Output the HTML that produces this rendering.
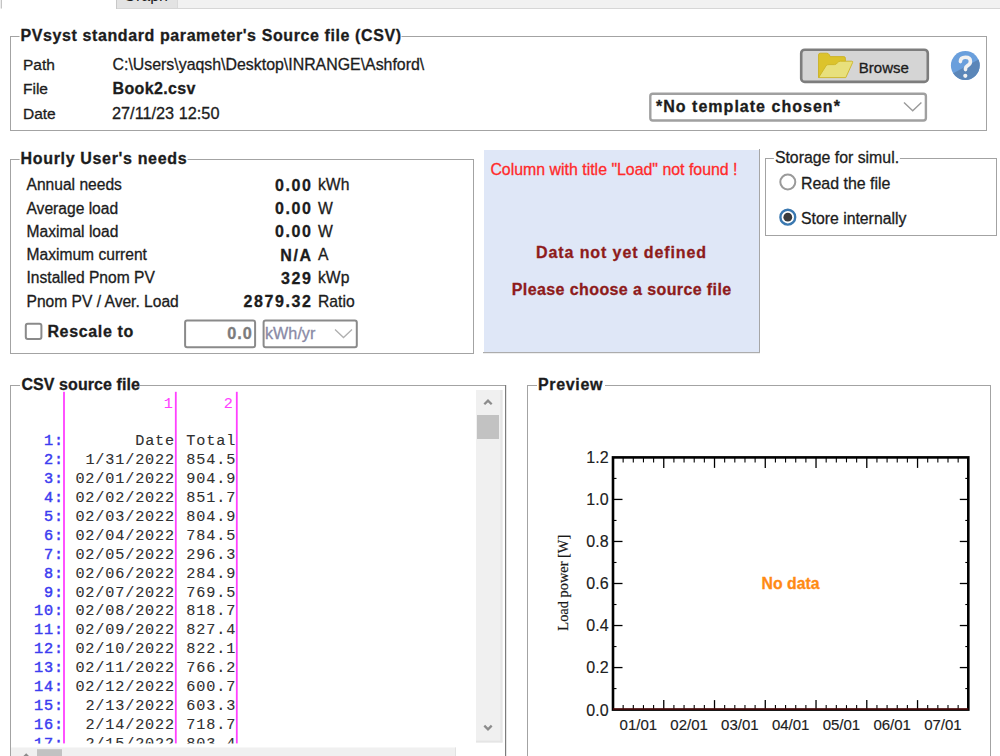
<!DOCTYPE html>
<html><head><meta charset="utf-8"><style>
html,body{margin:0;padding:0;background:#fff;width:1000px;height:756px;overflow:hidden}
svg{display:block}
</style></head><body>
<svg width="1000" height="756" viewBox="0 0 1000 756">
<rect x="0" y="0" width="1.5" height="8.5" fill="#ececec" stroke="none" stroke-width="1" rx="0" />
<rect x="1" y="0" width="1" height="8.5" fill="#c4c4c4" stroke="none" stroke-width="1" rx="0" />
<rect x="116" y="0" width="884" height="8" fill="#f1f1f1" stroke="none" stroke-width="1" rx="0" />
<rect x="116" y="8" width="884" height="1" fill="#d6d6d6" stroke="none" stroke-width="1" rx="0" />
<rect x="116" y="0" width="61" height="8" fill="#e3e3e3" stroke="none" stroke-width="1" rx="0" />
<rect x="116" y="0" width="1" height="9" fill="#c8c8c8" stroke="none" stroke-width="1" rx="0" />
<rect x="177" y="0" width="1" height="8" fill="#d9d9d9" stroke="none" stroke-width="1" rx="0" />
<text x="123.5" y="0.6" fill="#1c1c1c" text-anchor="start" style="font-family:&quot;Liberation Sans&quot;;font-size:16px;font-weight:normal;" >Graph</text>
<rect x="10.5" y="36.5" width="976" height="94" fill="none" stroke="#a3a3a3" stroke-width="1" rx="0" />
<rect x="19.5" y="33" width="382" height="7" fill="#fff" stroke="none" stroke-width="1" rx="0" />
<text x="20.5" y="41" fill="#1c1c1c" text-anchor="start" style="font-family:&quot;Liberation Sans&quot;;font-size:16px;font-weight:bold;letter-spacing:0.6px;stroke:#1c1c1c;stroke-width:0.3px;" >PVsyst standard parameter's Source file (CSV)</text>
<text x="23" y="69.8" fill="#1c1c1c" text-anchor="start" style="font-family:&quot;Liberation Sans&quot;;font-size:15.5px;font-weight:normal;stroke:#1c1c1c;stroke-width:0.3px;" >Path</text>
<text x="23" y="94.4" fill="#1c1c1c" text-anchor="start" style="font-family:&quot;Liberation Sans&quot;;font-size:15.5px;font-weight:normal;stroke:#1c1c1c;stroke-width:0.3px;" >File</text>
<text x="23" y="119.4" fill="#1c1c1c" text-anchor="start" style="font-family:&quot;Liberation Sans&quot;;font-size:15.5px;font-weight:normal;stroke:#1c1c1c;stroke-width:0.3px;" >Date</text>
<text x="112.5" y="69.8" fill="#1c1c1c" text-anchor="start" style="font-family:&quot;Liberation Sans&quot;;font-size:15.9px;font-weight:normal;stroke:#1c1c1c;stroke-width:0.3px;" >C:\Users\yaqsh\Desktop\INRANGE\Ashford\</text>
<text x="112.5" y="94.4" fill="#1c1c1c" text-anchor="start" style="font-family:&quot;Liberation Sans&quot;;font-size:16px;font-weight:bold;letter-spacing:0.35px;stroke:#1c1c1c;stroke-width:0.3px;" >Book2.csv</text>
<text x="112" y="119.4" fill="#1c1c1c" text-anchor="start" style="font-family:&quot;Liberation Sans&quot;;font-size:16.3px;font-weight:normal;stroke:#1c1c1c;stroke-width:0.3px;" >27/11/23 12:50</text>
<rect x="801.2" y="49.7" width="126.6" height="32.2" fill="#d5d5d5" stroke="#7d7d7d" stroke-width="2.6" rx="3.5" />
<g>
<path d="M818.5,77.5 L818.5,55 Q818.5,53.2 820.3,53.2 L826.8,53.2 Q828.3,53.2 829.2,54.6 L830.2,56.6 L843.8,56.6 Q845.4,56.6 845.4,58.2 L845.4,61.5 L818.5,77.5 Z" fill="#dcc32c" stroke="#c9ad1c" stroke-width="0.8"/>
<path d="M818.6,77.6 L826.2,65.6 Q827,64.6 829,64.6 L834.5,64.6 Q836.3,64.6 837.6,62.6 Q838.6,61.2 840.4,61.2 L851.6,61.2 Q853.2,61.2 852.6,62.6 L845.8,77.6 Z" fill="#e8e07c" stroke="#cdb422" stroke-width="0.9"/>
</g>
<text x="858.8" y="73.2" fill="#1c1c1c" text-anchor="start" style="font-family:&quot;Liberation Sans&quot;;font-size:15px;font-weight:normal;stroke:#1c1c1c;stroke-width:0.3px;" >Browse</text>
<defs><clipPath id="hc"><circle cx="965.3" cy="65.5" r="14.4"/></clipPath></defs>
<g clip-path="url(#hc)"><rect x="950" y="50" width="31" height="31" fill="#6a9fdc"/>
<path d="M950,75 L981,58.2 L981,81 L950,81 Z" fill="#5b86b8"/></g>
<path d="M960.4,61.6 Q960.4,57.3 965.4,57.3 Q970.4,57.3 970.4,61.4 Q970.4,63.9 967.6,65.6 Q965.5,66.9 965.5,68.6 L965.5,69.6" fill="none" stroke="#f2f2f2" stroke-width="3.6" stroke-linecap="round"/>
<circle cx="965.3" cy="75.8" r="2.1" fill="#f2f2f2"/>
<rect x="650.3" y="93.7" width="275.6" height="26.8" fill="#fff" stroke="#a0a0a0" stroke-width="2.4" rx="2.5" />
<text x="656" y="112.3" fill="#1c1c1c" text-anchor="start" style="font-family:&quot;Liberation Sans&quot;;font-size:16px;font-weight:bold;letter-spacing:1.02px;stroke:#1c1c1c;stroke-width:0.3px;" >*No template chosen*</text>
<polyline points="904,102.4 912.7,110.8 921.4,102.4" fill="none" stroke="#9a9a9a" stroke-width="1.4"/>
<rect x="10.5" y="159.5" width="463" height="194" fill="none" stroke="#a3a3a3" stroke-width="1" rx="0" />
<rect x="19.6" y="156" width="168" height="7" fill="#fff" stroke="none" stroke-width="1" rx="0" />
<text x="20.6" y="164" fill="#1c1c1c" text-anchor="start" style="font-family:&quot;Liberation Sans&quot;;font-size:16px;font-weight:bold;letter-spacing:0.66px;stroke:#1c1c1c;stroke-width:0.3px;" >Hourly User's needs</text>
<text x="26.5" y="190.4" fill="#1c1c1c" text-anchor="start" style="font-family:&quot;Liberation Sans&quot;;font-size:15.6px;font-weight:normal;stroke:#1c1c1c;stroke-width:0.3px;" >Annual needs</text>
<text x="312.6" y="190.9" fill="#1c1c1c" text-anchor="end" style="font-family:&quot;Liberation Sans&quot;;font-size:16px;font-weight:bold;letter-spacing:1.6px;stroke:#1c1c1c;stroke-width:0.3px;" >0.00</text>
<text x="318" y="190.4" fill="#1c1c1c" text-anchor="start" style="font-family:&quot;Liberation Sans&quot;;font-size:15.7px;font-weight:normal;stroke:#1c1c1c;stroke-width:0.3px;" >kWh</text>
<text x="26.5" y="213.65" fill="#1c1c1c" text-anchor="start" style="font-family:&quot;Liberation Sans&quot;;font-size:15.6px;font-weight:normal;stroke:#1c1c1c;stroke-width:0.3px;" >Average load</text>
<text x="312.6" y="214.15" fill="#1c1c1c" text-anchor="end" style="font-family:&quot;Liberation Sans&quot;;font-size:16px;font-weight:bold;letter-spacing:1.6px;stroke:#1c1c1c;stroke-width:0.3px;" >0.00</text>
<text x="318" y="213.65" fill="#1c1c1c" text-anchor="start" style="font-family:&quot;Liberation Sans&quot;;font-size:15.7px;font-weight:normal;stroke:#1c1c1c;stroke-width:0.3px;" >W</text>
<text x="26.5" y="236.9" fill="#1c1c1c" text-anchor="start" style="font-family:&quot;Liberation Sans&quot;;font-size:15.6px;font-weight:normal;stroke:#1c1c1c;stroke-width:0.3px;" >Maximal load</text>
<text x="312.6" y="237.4" fill="#1c1c1c" text-anchor="end" style="font-family:&quot;Liberation Sans&quot;;font-size:16px;font-weight:bold;letter-spacing:1.6px;stroke:#1c1c1c;stroke-width:0.3px;" >0.00</text>
<text x="318" y="236.9" fill="#1c1c1c" text-anchor="start" style="font-family:&quot;Liberation Sans&quot;;font-size:15.7px;font-weight:normal;stroke:#1c1c1c;stroke-width:0.3px;" >W</text>
<text x="26.5" y="260.15" fill="#1c1c1c" text-anchor="start" style="font-family:&quot;Liberation Sans&quot;;font-size:15.6px;font-weight:normal;stroke:#1c1c1c;stroke-width:0.3px;" >Maximum current</text>
<text x="312.6" y="260.65" fill="#1c1c1c" text-anchor="end" style="font-family:&quot;Liberation Sans&quot;;font-size:16px;font-weight:bold;letter-spacing:1.6px;stroke:#1c1c1c;stroke-width:0.3px;" >N/A</text>
<text x="318" y="260.15" fill="#1c1c1c" text-anchor="start" style="font-family:&quot;Liberation Sans&quot;;font-size:15.7px;font-weight:normal;stroke:#1c1c1c;stroke-width:0.3px;" >A</text>
<text x="26.5" y="283.4" fill="#1c1c1c" text-anchor="start" style="font-family:&quot;Liberation Sans&quot;;font-size:15.6px;font-weight:normal;stroke:#1c1c1c;stroke-width:0.3px;" >Installed Pnom PV</text>
<text x="312.6" y="283.9" fill="#1c1c1c" text-anchor="end" style="font-family:&quot;Liberation Sans&quot;;font-size:16px;font-weight:bold;letter-spacing:1.6px;stroke:#1c1c1c;stroke-width:0.3px;" >329</text>
<text x="318" y="283.4" fill="#1c1c1c" text-anchor="start" style="font-family:&quot;Liberation Sans&quot;;font-size:15.7px;font-weight:normal;stroke:#1c1c1c;stroke-width:0.3px;" >kWp</text>
<text x="26.5" y="306.65" fill="#1c1c1c" text-anchor="start" style="font-family:&quot;Liberation Sans&quot;;font-size:15.6px;font-weight:normal;stroke:#1c1c1c;stroke-width:0.3px;" >Pnom PV / Aver. Load</text>
<text x="312.6" y="307.15" fill="#1c1c1c" text-anchor="end" style="font-family:&quot;Liberation Sans&quot;;font-size:16px;font-weight:bold;letter-spacing:1.6px;stroke:#1c1c1c;stroke-width:0.3px;" >2879.32</text>
<text x="318" y="306.65" fill="#1c1c1c" text-anchor="start" style="font-family:&quot;Liberation Sans&quot;;font-size:15.7px;font-weight:normal;stroke:#1c1c1c;stroke-width:0.3px;" >Ratio</text>
<rect x="25.8" y="323.8" width="15.6" height="15.2" fill="#fff" stroke="#8a8a8a" stroke-width="2" rx="2" />
<text x="47.4" y="337.2" fill="#1c1c1c" text-anchor="start" style="font-family:&quot;Liberation Sans&quot;;font-size:16px;font-weight:bold;letter-spacing:0.65px;stroke:#1c1c1c;stroke-width:0.3px;" >Rescale to</text>
<rect x="185.1" y="320.5" width="70" height="26.8" fill="#fff" stroke="#8a8a8a" stroke-width="2" rx="2" />
<text x="252.8" y="338.6" fill="#7c7c7c" text-anchor="end" style="font-family:&quot;Liberation Sans&quot;;font-size:16.3px;font-weight:bold;letter-spacing:1.0px;stroke:#7c7c7c;stroke-width:0.3px;" >0.0</text>
<rect x="263.6" y="320.5" width="93.2" height="26.8" fill="#fff" stroke="#8a8a8a" stroke-width="2" rx="2" />
<text x="265" y="338.6" fill="#8a8aa6" text-anchor="start" style="font-family:&quot;Liberation Sans&quot;;font-size:16.2px;font-weight:normal;stroke:#8a8aa6;stroke-width:0.3px;" >kWh/yr</text>
<polyline points="335,329.5 343.5,337.5 352,329.5" fill="none" stroke="#b0b0b0" stroke-width="1.3"/>
<rect x="484" y="150" width="275" height="203" fill="#dfe7f7" stroke="none" stroke-width="1" rx="0" />
<rect x="759" y="149" width="1" height="204" fill="#a6a6a6" stroke="none" stroke-width="1" rx="0" />
<rect x="483" y="352" width="277" height="1.2" fill="#acacac" stroke="none" stroke-width="1" rx="0" />
<text x="490.4" y="174.6" fill="#ff2a2a" text-anchor="start" style="font-family:&quot;Liberation Sans&quot;;font-size:15.9px;font-weight:normal;stroke:#ff2a2a;stroke-width:0.3px;" >Column with title "Load" not found !</text>
<text x="621.5" y="257.6" fill="#8e1b1b" text-anchor="middle" style="font-family:&quot;Liberation Sans&quot;;font-size:16px;font-weight:bold;letter-spacing:0.9px;stroke:#8e1b1b;stroke-width:0.3px;" >Data not yet defined</text>
<text x="621.7" y="295.2" fill="#8e1b1b" text-anchor="middle" style="font-family:&quot;Liberation Sans&quot;;font-size:16px;font-weight:bold;letter-spacing:0.4px;stroke:#8e1b1b;stroke-width:0.3px;" >Please choose a source file</text>
<rect x="765.5" y="158.5" width="231" height="77" fill="none" stroke="#a3a3a3" stroke-width="1" rx="0" />
<rect x="773.9" y="155" width="126" height="7" fill="#fff" stroke="none" stroke-width="1" rx="0" />
<text x="774.9" y="162.8" fill="#1c1c1c" text-anchor="start" style="font-family:&quot;Liberation Sans&quot;;font-size:15.85px;font-weight:normal;stroke:#1c1c1c;stroke-width:0.3px;" >Storage for simul.</text>
<circle cx="787.8" cy="182" r="7.5" fill="#fff" stroke="#9a9a9a" stroke-width="2"/>
<text x="801" y="189.2" fill="#1c1c1c" text-anchor="start" style="font-family:&quot;Liberation Sans&quot;;font-size:15.95px;font-weight:normal;stroke:#1c1c1c;stroke-width:0.3px;" >Read the file</text>
<circle cx="787.8" cy="217.2" r="7.4" fill="#fff" stroke="#3a78b0" stroke-width="2.4"/>
<circle cx="787.8" cy="217.2" r="4.4" fill="#3b3b3b"/>
<text x="801" y="223.6" fill="#1c1c1c" text-anchor="start" style="font-family:&quot;Liberation Sans&quot;;font-size:15.8px;font-weight:normal;stroke:#1c1c1c;stroke-width:0.3px;" >Store internally</text>
<rect x="10.5" y="385.5" width="495" height="400" fill="none" stroke="#a3a3a3" stroke-width="1" rx="0" />
<rect x="505" y="385" width="1.2" height="371" fill="#7c7c7c" stroke="none" stroke-width="1" rx="0" />
<rect x="20" y="382" width="120" height="7" fill="#fff" stroke="none" stroke-width="1" rx="0" />
<text x="21.5" y="390" fill="#1c1c1c" text-anchor="start" style="font-family:&quot;Liberation Sans&quot;;font-size:16px;font-weight:bold;letter-spacing:0.07px;stroke:#1c1c1c;stroke-width:0.3px;" >CSV source file</text>
<defs><clipPath id="csvclip"><rect x="11" y="391" width="465" height="352.5"/></clipPath></defs>
<g clip-path="url(#csvclip)">
<rect x="63.1" y="391.8" width="1.8" height="352" fill="#ff40ff" stroke="none" stroke-width="1" rx="0" />
<rect x="174.9" y="391.8" width="1.8" height="352" fill="#ff40ff" stroke="none" stroke-width="1" rx="0" />
<rect x="235.9" y="391.8" width="1.8" height="352" fill="#ff40ff" stroke="none" stroke-width="1" rx="0" />
<text x="163.76" y="407.7" fill="#ff40ff" text-anchor="start" style="font-family:&quot;Liberation Mono&quot;;font-size:15.2px;font-weight:normal;letter-spacing:0.84px;stroke:#ff40ff;stroke-width:0.1px;" >1</text>
<text x="223.76" y="407.7" fill="#ff40ff" text-anchor="start" style="font-family:&quot;Liberation Mono&quot;;font-size:15.2px;font-weight:normal;letter-spacing:0.84px;stroke:#ff40ff;stroke-width:0.1px;" >2</text>
<text x="44.0" y="445.3" fill="#3c3cf0" text-anchor="start" style="font-family:&quot;Liberation Mono&quot;;font-size:15.2px;font-weight:normal;letter-spacing:0.84px;stroke:#3c3cf0;stroke-width:0.45px;" >1:</text>
<text x="135.18" y="445.3" fill="#303030" text-anchor="start" style="font-family:&quot;Liberation Mono&quot;;font-size:15.2px;font-weight:normal;letter-spacing:0.84px;stroke:#303030;stroke-width:0.1px;" >Date</text>
<text x="186.32" y="445.3" fill="#303030" text-anchor="start" style="font-family:&quot;Liberation Mono&quot;;font-size:15.2px;font-weight:normal;letter-spacing:0.84px;stroke:#303030;stroke-width:0.1px;" >Total</text>
<text x="44.0" y="464.2" fill="#3c3cf0" text-anchor="start" style="font-family:&quot;Liberation Mono&quot;;font-size:15.2px;font-weight:normal;letter-spacing:0.84px;stroke:#3c3cf0;stroke-width:0.45px;" >2:</text>
<text x="85.38" y="464.2" fill="#303030" text-anchor="start" style="font-family:&quot;Liberation Mono&quot;;font-size:15.2px;font-weight:normal;letter-spacing:0.84px;stroke:#303030;stroke-width:0.1px;" >1/31/2022</text>
<text x="186.32" y="464.2" fill="#303030" text-anchor="start" style="font-family:&quot;Liberation Mono&quot;;font-size:15.2px;font-weight:normal;letter-spacing:0.84px;stroke:#303030;stroke-width:0.1px;" >854.5</text>
<text x="44.0" y="483.1" fill="#3c3cf0" text-anchor="start" style="font-family:&quot;Liberation Mono&quot;;font-size:15.2px;font-weight:normal;letter-spacing:0.84px;stroke:#3c3cf0;stroke-width:0.45px;" >3:</text>
<text x="75.42" y="483.1" fill="#303030" text-anchor="start" style="font-family:&quot;Liberation Mono&quot;;font-size:15.2px;font-weight:normal;letter-spacing:0.84px;stroke:#303030;stroke-width:0.1px;" >02/01/2022</text>
<text x="186.32" y="483.1" fill="#303030" text-anchor="start" style="font-family:&quot;Liberation Mono&quot;;font-size:15.2px;font-weight:normal;letter-spacing:0.84px;stroke:#303030;stroke-width:0.1px;" >904.9</text>
<text x="44.0" y="502.0" fill="#3c3cf0" text-anchor="start" style="font-family:&quot;Liberation Mono&quot;;font-size:15.2px;font-weight:normal;letter-spacing:0.84px;stroke:#3c3cf0;stroke-width:0.45px;" >4:</text>
<text x="75.42" y="502.0" fill="#303030" text-anchor="start" style="font-family:&quot;Liberation Mono&quot;;font-size:15.2px;font-weight:normal;letter-spacing:0.84px;stroke:#303030;stroke-width:0.1px;" >02/02/2022</text>
<text x="186.32" y="502.0" fill="#303030" text-anchor="start" style="font-family:&quot;Liberation Mono&quot;;font-size:15.2px;font-weight:normal;letter-spacing:0.84px;stroke:#303030;stroke-width:0.1px;" >851.7</text>
<text x="44.0" y="520.9" fill="#3c3cf0" text-anchor="start" style="font-family:&quot;Liberation Mono&quot;;font-size:15.2px;font-weight:normal;letter-spacing:0.84px;stroke:#3c3cf0;stroke-width:0.45px;" >5:</text>
<text x="75.42" y="520.9" fill="#303030" text-anchor="start" style="font-family:&quot;Liberation Mono&quot;;font-size:15.2px;font-weight:normal;letter-spacing:0.84px;stroke:#303030;stroke-width:0.1px;" >02/03/2022</text>
<text x="186.32" y="520.9" fill="#303030" text-anchor="start" style="font-family:&quot;Liberation Mono&quot;;font-size:15.2px;font-weight:normal;letter-spacing:0.84px;stroke:#303030;stroke-width:0.1px;" >804.9</text>
<text x="44.0" y="539.8" fill="#3c3cf0" text-anchor="start" style="font-family:&quot;Liberation Mono&quot;;font-size:15.2px;font-weight:normal;letter-spacing:0.84px;stroke:#3c3cf0;stroke-width:0.45px;" >6:</text>
<text x="75.42" y="539.8" fill="#303030" text-anchor="start" style="font-family:&quot;Liberation Mono&quot;;font-size:15.2px;font-weight:normal;letter-spacing:0.84px;stroke:#303030;stroke-width:0.1px;" >02/04/2022</text>
<text x="186.32" y="539.8" fill="#303030" text-anchor="start" style="font-family:&quot;Liberation Mono&quot;;font-size:15.2px;font-weight:normal;letter-spacing:0.84px;stroke:#303030;stroke-width:0.1px;" >784.5</text>
<text x="44.0" y="558.7" fill="#3c3cf0" text-anchor="start" style="font-family:&quot;Liberation Mono&quot;;font-size:15.2px;font-weight:normal;letter-spacing:0.84px;stroke:#3c3cf0;stroke-width:0.45px;" >7:</text>
<text x="75.42" y="558.7" fill="#303030" text-anchor="start" style="font-family:&quot;Liberation Mono&quot;;font-size:15.2px;font-weight:normal;letter-spacing:0.84px;stroke:#303030;stroke-width:0.1px;" >02/05/2022</text>
<text x="186.32" y="558.7" fill="#303030" text-anchor="start" style="font-family:&quot;Liberation Mono&quot;;font-size:15.2px;font-weight:normal;letter-spacing:0.84px;stroke:#303030;stroke-width:0.1px;" >296.3</text>
<text x="44.0" y="577.6" fill="#3c3cf0" text-anchor="start" style="font-family:&quot;Liberation Mono&quot;;font-size:15.2px;font-weight:normal;letter-spacing:0.84px;stroke:#3c3cf0;stroke-width:0.45px;" >8:</text>
<text x="75.42" y="577.6" fill="#303030" text-anchor="start" style="font-family:&quot;Liberation Mono&quot;;font-size:15.2px;font-weight:normal;letter-spacing:0.84px;stroke:#303030;stroke-width:0.1px;" >02/06/2022</text>
<text x="186.32" y="577.6" fill="#303030" text-anchor="start" style="font-family:&quot;Liberation Mono&quot;;font-size:15.2px;font-weight:normal;letter-spacing:0.84px;stroke:#303030;stroke-width:0.1px;" >284.9</text>
<text x="44.0" y="596.5" fill="#3c3cf0" text-anchor="start" style="font-family:&quot;Liberation Mono&quot;;font-size:15.2px;font-weight:normal;letter-spacing:0.84px;stroke:#3c3cf0;stroke-width:0.45px;" >9:</text>
<text x="75.42" y="596.5" fill="#303030" text-anchor="start" style="font-family:&quot;Liberation Mono&quot;;font-size:15.2px;font-weight:normal;letter-spacing:0.84px;stroke:#303030;stroke-width:0.1px;" >02/07/2022</text>
<text x="186.32" y="596.5" fill="#303030" text-anchor="start" style="font-family:&quot;Liberation Mono&quot;;font-size:15.2px;font-weight:normal;letter-spacing:0.84px;stroke:#303030;stroke-width:0.1px;" >769.5</text>
<text x="34.04" y="615.4" fill="#3c3cf0" text-anchor="start" style="font-family:&quot;Liberation Mono&quot;;font-size:15.2px;font-weight:normal;letter-spacing:0.84px;stroke:#3c3cf0;stroke-width:0.45px;" >10:</text>
<text x="75.42" y="615.4" fill="#303030" text-anchor="start" style="font-family:&quot;Liberation Mono&quot;;font-size:15.2px;font-weight:normal;letter-spacing:0.84px;stroke:#303030;stroke-width:0.1px;" >02/08/2022</text>
<text x="186.32" y="615.4" fill="#303030" text-anchor="start" style="font-family:&quot;Liberation Mono&quot;;font-size:15.2px;font-weight:normal;letter-spacing:0.84px;stroke:#303030;stroke-width:0.1px;" >818.7</text>
<text x="34.04" y="634.3" fill="#3c3cf0" text-anchor="start" style="font-family:&quot;Liberation Mono&quot;;font-size:15.2px;font-weight:normal;letter-spacing:0.84px;stroke:#3c3cf0;stroke-width:0.45px;" >11:</text>
<text x="75.42" y="634.3" fill="#303030" text-anchor="start" style="font-family:&quot;Liberation Mono&quot;;font-size:15.2px;font-weight:normal;letter-spacing:0.84px;stroke:#303030;stroke-width:0.1px;" >02/09/2022</text>
<text x="186.32" y="634.3" fill="#303030" text-anchor="start" style="font-family:&quot;Liberation Mono&quot;;font-size:15.2px;font-weight:normal;letter-spacing:0.84px;stroke:#303030;stroke-width:0.1px;" >827.4</text>
<text x="34.04" y="653.2" fill="#3c3cf0" text-anchor="start" style="font-family:&quot;Liberation Mono&quot;;font-size:15.2px;font-weight:normal;letter-spacing:0.84px;stroke:#3c3cf0;stroke-width:0.45px;" >12:</text>
<text x="75.42" y="653.2" fill="#303030" text-anchor="start" style="font-family:&quot;Liberation Mono&quot;;font-size:15.2px;font-weight:normal;letter-spacing:0.84px;stroke:#303030;stroke-width:0.1px;" >02/10/2022</text>
<text x="186.32" y="653.2" fill="#303030" text-anchor="start" style="font-family:&quot;Liberation Mono&quot;;font-size:15.2px;font-weight:normal;letter-spacing:0.84px;stroke:#303030;stroke-width:0.1px;" >822.1</text>
<text x="34.04" y="672.1" fill="#3c3cf0" text-anchor="start" style="font-family:&quot;Liberation Mono&quot;;font-size:15.2px;font-weight:normal;letter-spacing:0.84px;stroke:#3c3cf0;stroke-width:0.45px;" >13:</text>
<text x="75.42" y="672.1" fill="#303030" text-anchor="start" style="font-family:&quot;Liberation Mono&quot;;font-size:15.2px;font-weight:normal;letter-spacing:0.84px;stroke:#303030;stroke-width:0.1px;" >02/11/2022</text>
<text x="186.32" y="672.1" fill="#303030" text-anchor="start" style="font-family:&quot;Liberation Mono&quot;;font-size:15.2px;font-weight:normal;letter-spacing:0.84px;stroke:#303030;stroke-width:0.1px;" >766.2</text>
<text x="34.04" y="691.0" fill="#3c3cf0" text-anchor="start" style="font-family:&quot;Liberation Mono&quot;;font-size:15.2px;font-weight:normal;letter-spacing:0.84px;stroke:#3c3cf0;stroke-width:0.45px;" >14:</text>
<text x="75.42" y="691.0" fill="#303030" text-anchor="start" style="font-family:&quot;Liberation Mono&quot;;font-size:15.2px;font-weight:normal;letter-spacing:0.84px;stroke:#303030;stroke-width:0.1px;" >02/12/2022</text>
<text x="186.32" y="691.0" fill="#303030" text-anchor="start" style="font-family:&quot;Liberation Mono&quot;;font-size:15.2px;font-weight:normal;letter-spacing:0.84px;stroke:#303030;stroke-width:0.1px;" >600.7</text>
<text x="34.04" y="709.9" fill="#3c3cf0" text-anchor="start" style="font-family:&quot;Liberation Mono&quot;;font-size:15.2px;font-weight:normal;letter-spacing:0.84px;stroke:#3c3cf0;stroke-width:0.45px;" >15:</text>
<text x="85.38" y="709.9" fill="#303030" text-anchor="start" style="font-family:&quot;Liberation Mono&quot;;font-size:15.2px;font-weight:normal;letter-spacing:0.84px;stroke:#303030;stroke-width:0.1px;" >2/13/2022</text>
<text x="186.32" y="709.9" fill="#303030" text-anchor="start" style="font-family:&quot;Liberation Mono&quot;;font-size:15.2px;font-weight:normal;letter-spacing:0.84px;stroke:#303030;stroke-width:0.1px;" >603.3</text>
<text x="34.04" y="728.8" fill="#3c3cf0" text-anchor="start" style="font-family:&quot;Liberation Mono&quot;;font-size:15.2px;font-weight:normal;letter-spacing:0.84px;stroke:#3c3cf0;stroke-width:0.45px;" >16:</text>
<text x="85.38" y="728.8" fill="#303030" text-anchor="start" style="font-family:&quot;Liberation Mono&quot;;font-size:15.2px;font-weight:normal;letter-spacing:0.84px;stroke:#303030;stroke-width:0.1px;" >2/14/2022</text>
<text x="186.32" y="728.8" fill="#303030" text-anchor="start" style="font-family:&quot;Liberation Mono&quot;;font-size:15.2px;font-weight:normal;letter-spacing:0.84px;stroke:#303030;stroke-width:0.1px;" >718.7</text>
<text x="34.04" y="747.7" fill="#3c3cf0" text-anchor="start" style="font-family:&quot;Liberation Mono&quot;;font-size:15.2px;font-weight:normal;letter-spacing:0.84px;stroke:#3c3cf0;stroke-width:0.45px;" >17:</text>
<text x="85.38" y="747.7" fill="#303030" text-anchor="start" style="font-family:&quot;Liberation Mono&quot;;font-size:15.2px;font-weight:normal;letter-spacing:0.84px;stroke:#303030;stroke-width:0.1px;" >2/15/2022</text>
<text x="186.32" y="747.7" fill="#303030" text-anchor="start" style="font-family:&quot;Liberation Mono&quot;;font-size:15.2px;font-weight:normal;letter-spacing:0.84px;stroke:#303030;stroke-width:0.1px;" >803.4</text>
</g>
<rect x="476" y="390" width="26.5" height="352.5" fill="#f0f0f0" stroke="none" stroke-width="1" rx="0" />
<rect x="500.3" y="390" width="2.2" height="352.5" fill="#e5e5e5" stroke="none" stroke-width="1" rx="0" />
<rect x="476" y="740.6" width="26.5" height="1.9" fill="#e5e5e5" stroke="none" stroke-width="1" rx="0" />
<rect x="477" y="415" width="22" height="24" fill="#c2c2c2" stroke="none" stroke-width="1" rx="0" />
<polyline points="484.3,404.3 488,400.6 491.7,404.3" fill="none" stroke="#8c8c8c" stroke-width="2.3"/>
<polyline points="484.3,725.6 488,729.3 491.7,725.6" fill="none" stroke="#8c8c8c" stroke-width="2.3"/>
<rect x="11" y="747.5" width="445" height="9" fill="#f0f0f0" stroke="none" stroke-width="1" rx="0" />
<rect x="455" y="747.5" width="1" height="9" fill="#e2e2e2" stroke="none" stroke-width="1" rx="0" />
<rect x="37" y="749.2" width="25" height="7" fill="#c2c2c2" stroke="none" stroke-width="1" rx="0" />
<polyline points="22.5,758.5 26.2,754.8 29.9,758.5" fill="none" stroke="#8c8c8c" stroke-width="2.2"/>
<rect x="527.5" y="385.5" width="463" height="400" fill="none" stroke="#a3a3a3" stroke-width="1" rx="0" />
<rect x="537" y="382" width="68" height="7" fill="#fff" stroke="none" stroke-width="1" rx="0" />
<text x="538" y="390" fill="#1c1c1c" text-anchor="start" style="font-family:&quot;Liberation Sans&quot;;font-size:16px;font-weight:bold;letter-spacing:0.65px;stroke:#1c1c1c;stroke-width:0.3px;" >Preview</text>
<line x1="623.1514285714286" y1="457.4" x2="623.1514285714286" y2="462.4" stroke="#000" stroke-width="1.1"/>
<line x1="623.1514285714286" y1="709.6" x2="623.1514285714286" y2="705.1" stroke="#000" stroke-width="1.1"/>
<line x1="633.3028571428572" y1="457.4" x2="633.3028571428572" y2="462.4" stroke="#000" stroke-width="1.1"/>
<line x1="633.3028571428572" y1="709.6" x2="633.3028571428572" y2="705.1" stroke="#000" stroke-width="1.1"/>
<line x1="643.4542857142857" y1="457.4" x2="643.4542857142857" y2="462.4" stroke="#000" stroke-width="1.1"/>
<line x1="643.4542857142857" y1="709.6" x2="643.4542857142857" y2="705.1" stroke="#000" stroke-width="1.1"/>
<line x1="653.6057142857143" y1="457.4" x2="653.6057142857143" y2="462.4" stroke="#000" stroke-width="1.1"/>
<line x1="653.6057142857143" y1="709.6" x2="653.6057142857143" y2="705.1" stroke="#000" stroke-width="1.1"/>
<line x1="663.7571428571429" y1="457.4" x2="663.7571428571429" y2="467.9" stroke="#000" stroke-width="1.3"/>
<line x1="663.7571428571429" y1="709.6" x2="663.7571428571429" y2="700.1" stroke="#000" stroke-width="1.3"/>
<line x1="673.9085714285715" y1="457.4" x2="673.9085714285715" y2="462.4" stroke="#000" stroke-width="1.1"/>
<line x1="673.9085714285715" y1="709.6" x2="673.9085714285715" y2="705.1" stroke="#000" stroke-width="1.1"/>
<line x1="684.06" y1="457.4" x2="684.06" y2="462.4" stroke="#000" stroke-width="1.1"/>
<line x1="684.06" y1="709.6" x2="684.06" y2="705.1" stroke="#000" stroke-width="1.1"/>
<line x1="694.2114285714285" y1="457.4" x2="694.2114285714285" y2="462.4" stroke="#000" stroke-width="1.1"/>
<line x1="694.2114285714285" y1="709.6" x2="694.2114285714285" y2="705.1" stroke="#000" stroke-width="1.1"/>
<line x1="704.3628571428571" y1="457.4" x2="704.3628571428571" y2="462.4" stroke="#000" stroke-width="1.1"/>
<line x1="704.3628571428571" y1="709.6" x2="704.3628571428571" y2="705.1" stroke="#000" stroke-width="1.1"/>
<line x1="714.5142857142857" y1="457.4" x2="714.5142857142857" y2="467.9" stroke="#000" stroke-width="1.3"/>
<line x1="714.5142857142857" y1="709.6" x2="714.5142857142857" y2="700.1" stroke="#000" stroke-width="1.3"/>
<line x1="724.6657142857143" y1="457.4" x2="724.6657142857143" y2="462.4" stroke="#000" stroke-width="1.1"/>
<line x1="724.6657142857143" y1="709.6" x2="724.6657142857143" y2="705.1" stroke="#000" stroke-width="1.1"/>
<line x1="734.8171428571428" y1="457.4" x2="734.8171428571428" y2="462.4" stroke="#000" stroke-width="1.1"/>
<line x1="734.8171428571428" y1="709.6" x2="734.8171428571428" y2="705.1" stroke="#000" stroke-width="1.1"/>
<line x1="744.9685714285714" y1="457.4" x2="744.9685714285714" y2="462.4" stroke="#000" stroke-width="1.1"/>
<line x1="744.9685714285714" y1="709.6" x2="744.9685714285714" y2="705.1" stroke="#000" stroke-width="1.1"/>
<line x1="755.12" y1="457.4" x2="755.12" y2="462.4" stroke="#000" stroke-width="1.1"/>
<line x1="755.12" y1="709.6" x2="755.12" y2="705.1" stroke="#000" stroke-width="1.1"/>
<line x1="765.2714285714285" y1="457.4" x2="765.2714285714285" y2="467.9" stroke="#000" stroke-width="1.3"/>
<line x1="765.2714285714285" y1="709.6" x2="765.2714285714285" y2="700.1" stroke="#000" stroke-width="1.3"/>
<line x1="775.4228571428571" y1="457.4" x2="775.4228571428571" y2="462.4" stroke="#000" stroke-width="1.1"/>
<line x1="775.4228571428571" y1="709.6" x2="775.4228571428571" y2="705.1" stroke="#000" stroke-width="1.1"/>
<line x1="785.5742857142857" y1="457.4" x2="785.5742857142857" y2="462.4" stroke="#000" stroke-width="1.1"/>
<line x1="785.5742857142857" y1="709.6" x2="785.5742857142857" y2="705.1" stroke="#000" stroke-width="1.1"/>
<line x1="795.7257142857143" y1="457.4" x2="795.7257142857143" y2="462.4" stroke="#000" stroke-width="1.1"/>
<line x1="795.7257142857143" y1="709.6" x2="795.7257142857143" y2="705.1" stroke="#000" stroke-width="1.1"/>
<line x1="805.8771428571429" y1="457.4" x2="805.8771428571429" y2="462.4" stroke="#000" stroke-width="1.1"/>
<line x1="805.8771428571429" y1="709.6" x2="805.8771428571429" y2="705.1" stroke="#000" stroke-width="1.1"/>
<line x1="816.0285714285715" y1="457.4" x2="816.0285714285715" y2="467.9" stroke="#000" stroke-width="1.3"/>
<line x1="816.0285714285715" y1="709.6" x2="816.0285714285715" y2="700.1" stroke="#000" stroke-width="1.3"/>
<line x1="826.18" y1="457.4" x2="826.18" y2="462.4" stroke="#000" stroke-width="1.1"/>
<line x1="826.18" y1="709.6" x2="826.18" y2="705.1" stroke="#000" stroke-width="1.1"/>
<line x1="836.3314285714285" y1="457.4" x2="836.3314285714285" y2="462.4" stroke="#000" stroke-width="1.1"/>
<line x1="836.3314285714285" y1="709.6" x2="836.3314285714285" y2="705.1" stroke="#000" stroke-width="1.1"/>
<line x1="846.4828571428571" y1="457.4" x2="846.4828571428571" y2="462.4" stroke="#000" stroke-width="1.1"/>
<line x1="846.4828571428571" y1="709.6" x2="846.4828571428571" y2="705.1" stroke="#000" stroke-width="1.1"/>
<line x1="856.6342857142856" y1="457.4" x2="856.6342857142856" y2="462.4" stroke="#000" stroke-width="1.1"/>
<line x1="856.6342857142856" y1="709.6" x2="856.6342857142856" y2="705.1" stroke="#000" stroke-width="1.1"/>
<line x1="866.7857142857142" y1="457.4" x2="866.7857142857142" y2="467.9" stroke="#000" stroke-width="1.3"/>
<line x1="866.7857142857142" y1="709.6" x2="866.7857142857142" y2="700.1" stroke="#000" stroke-width="1.3"/>
<line x1="876.9371428571428" y1="457.4" x2="876.9371428571428" y2="462.4" stroke="#000" stroke-width="1.1"/>
<line x1="876.9371428571428" y1="709.6" x2="876.9371428571428" y2="705.1" stroke="#000" stroke-width="1.1"/>
<line x1="887.0885714285714" y1="457.4" x2="887.0885714285714" y2="462.4" stroke="#000" stroke-width="1.1"/>
<line x1="887.0885714285714" y1="709.6" x2="887.0885714285714" y2="705.1" stroke="#000" stroke-width="1.1"/>
<line x1="897.24" y1="457.4" x2="897.24" y2="462.4" stroke="#000" stroke-width="1.1"/>
<line x1="897.24" y1="709.6" x2="897.24" y2="705.1" stroke="#000" stroke-width="1.1"/>
<line x1="907.3914285714286" y1="457.4" x2="907.3914285714286" y2="462.4" stroke="#000" stroke-width="1.1"/>
<line x1="907.3914285714286" y1="709.6" x2="907.3914285714286" y2="705.1" stroke="#000" stroke-width="1.1"/>
<line x1="917.5428571428571" y1="457.4" x2="917.5428571428571" y2="467.9" stroke="#000" stroke-width="1.3"/>
<line x1="917.5428571428571" y1="709.6" x2="917.5428571428571" y2="700.1" stroke="#000" stroke-width="1.3"/>
<line x1="927.6942857142857" y1="457.4" x2="927.6942857142857" y2="462.4" stroke="#000" stroke-width="1.1"/>
<line x1="927.6942857142857" y1="709.6" x2="927.6942857142857" y2="705.1" stroke="#000" stroke-width="1.1"/>
<line x1="937.8457142857143" y1="457.4" x2="937.8457142857143" y2="462.4" stroke="#000" stroke-width="1.1"/>
<line x1="937.8457142857143" y1="709.6" x2="937.8457142857143" y2="705.1" stroke="#000" stroke-width="1.1"/>
<line x1="947.9971428571428" y1="457.4" x2="947.9971428571428" y2="462.4" stroke="#000" stroke-width="1.1"/>
<line x1="947.9971428571428" y1="709.6" x2="947.9971428571428" y2="705.1" stroke="#000" stroke-width="1.1"/>
<line x1="958.1485714285714" y1="457.4" x2="958.1485714285714" y2="462.4" stroke="#000" stroke-width="1.1"/>
<line x1="958.1485714285714" y1="709.6" x2="958.1485714285714" y2="705.1" stroke="#000" stroke-width="1.1"/>
<line x1="968.3" y1="457.4" x2="968.3" y2="467.9" stroke="#000" stroke-width="1.3"/>
<line x1="968.3" y1="709.6" x2="968.3" y2="700.1" stroke="#000" stroke-width="1.3"/>
<line x1="613" y1="688.5833333333334" x2="616.5" y2="688.5833333333334" stroke="#000" stroke-width="1.1"/>
<line x1="968.3" y1="688.5833333333334" x2="965.3" y2="688.5833333333334" stroke="#000" stroke-width="1.1"/>
<line x1="613" y1="667.5666666666667" x2="622.5" y2="667.5666666666667" stroke="#000" stroke-width="1.3"/>
<line x1="968.3" y1="667.5666666666667" x2="959.8" y2="667.5666666666667" stroke="#000" stroke-width="1.3"/>
<line x1="613" y1="646.55" x2="616.5" y2="646.55" stroke="#000" stroke-width="1.1"/>
<line x1="968.3" y1="646.55" x2="965.3" y2="646.55" stroke="#000" stroke-width="1.1"/>
<line x1="613" y1="625.5333333333333" x2="622.5" y2="625.5333333333333" stroke="#000" stroke-width="1.3"/>
<line x1="968.3" y1="625.5333333333333" x2="959.8" y2="625.5333333333333" stroke="#000" stroke-width="1.3"/>
<line x1="613" y1="604.5166666666667" x2="616.5" y2="604.5166666666667" stroke="#000" stroke-width="1.1"/>
<line x1="968.3" y1="604.5166666666667" x2="965.3" y2="604.5166666666667" stroke="#000" stroke-width="1.1"/>
<line x1="613" y1="583.5" x2="622.5" y2="583.5" stroke="#000" stroke-width="1.3"/>
<line x1="968.3" y1="583.5" x2="959.8" y2="583.5" stroke="#000" stroke-width="1.3"/>
<line x1="613" y1="562.4833333333333" x2="616.5" y2="562.4833333333333" stroke="#000" stroke-width="1.1"/>
<line x1="968.3" y1="562.4833333333333" x2="965.3" y2="562.4833333333333" stroke="#000" stroke-width="1.1"/>
<line x1="613" y1="541.4666666666667" x2="622.5" y2="541.4666666666667" stroke="#000" stroke-width="1.3"/>
<line x1="968.3" y1="541.4666666666667" x2="959.8" y2="541.4666666666667" stroke="#000" stroke-width="1.3"/>
<line x1="613" y1="520.45" x2="616.5" y2="520.45" stroke="#000" stroke-width="1.1"/>
<line x1="968.3" y1="520.45" x2="965.3" y2="520.45" stroke="#000" stroke-width="1.1"/>
<line x1="613" y1="499.43333333333334" x2="622.5" y2="499.43333333333334" stroke="#000" stroke-width="1.3"/>
<line x1="968.3" y1="499.43333333333334" x2="959.8" y2="499.43333333333334" stroke="#000" stroke-width="1.3"/>
<line x1="613" y1="478.41666666666663" x2="616.5" y2="478.41666666666663" stroke="#000" stroke-width="1.1"/>
<line x1="968.3" y1="478.41666666666663" x2="965.3" y2="478.41666666666663" stroke="#000" stroke-width="1.1"/>
<rect x="613" y="457.4" width="355.29999999999995" height="252.20000000000005" fill="none" stroke="#000" stroke-width="2.6" rx="0" />
<line x1="613" y1="709.0" x2="968.3" y2="709.0" stroke="#7a1010" stroke-width="1.2"/>
<text x="608.6" y="463.29999999999995" fill="#202020" text-anchor="end" style="font-family:&quot;Liberation Sans&quot;;font-size:16px;font-weight:normal;stroke:#202020;stroke-width:0.15px;" >1.2</text>
<text x="608.6" y="505.3333333333333" fill="#202020" text-anchor="end" style="font-family:&quot;Liberation Sans&quot;;font-size:16px;font-weight:normal;stroke:#202020;stroke-width:0.15px;" >1.0</text>
<text x="608.6" y="547.3666666666667" fill="#202020" text-anchor="end" style="font-family:&quot;Liberation Sans&quot;;font-size:16px;font-weight:normal;stroke:#202020;stroke-width:0.15px;" >0.8</text>
<text x="608.6" y="589.4" fill="#202020" text-anchor="end" style="font-family:&quot;Liberation Sans&quot;;font-size:16px;font-weight:normal;stroke:#202020;stroke-width:0.15px;" >0.6</text>
<text x="608.6" y="631.4333333333333" fill="#202020" text-anchor="end" style="font-family:&quot;Liberation Sans&quot;;font-size:16px;font-weight:normal;stroke:#202020;stroke-width:0.15px;" >0.4</text>
<text x="608.6" y="673.4666666666666" fill="#202020" text-anchor="end" style="font-family:&quot;Liberation Sans&quot;;font-size:16px;font-weight:normal;stroke:#202020;stroke-width:0.15px;" >0.2</text>
<text x="608.6" y="715.5" fill="#202020" text-anchor="end" style="font-family:&quot;Liberation Sans&quot;;font-size:16px;font-weight:normal;stroke:#202020;stroke-width:0.15px;" >0.0</text>
<text x="638.3785714285714" y="730" fill="#202020" text-anchor="middle" style="font-family:&quot;Liberation Sans&quot;;font-size:15px;font-weight:normal;stroke:#202020;stroke-width:0.15px;" >01/01</text>
<text x="689.1357142857142" y="730" fill="#202020" text-anchor="middle" style="font-family:&quot;Liberation Sans&quot;;font-size:15px;font-weight:normal;stroke:#202020;stroke-width:0.15px;" >02/01</text>
<text x="739.8928571428571" y="730" fill="#202020" text-anchor="middle" style="font-family:&quot;Liberation Sans&quot;;font-size:15px;font-weight:normal;stroke:#202020;stroke-width:0.15px;" >03/01</text>
<text x="790.65" y="730" fill="#202020" text-anchor="middle" style="font-family:&quot;Liberation Sans&quot;;font-size:15px;font-weight:normal;stroke:#202020;stroke-width:0.15px;" >04/01</text>
<text x="841.4071428571428" y="730" fill="#202020" text-anchor="middle" style="font-family:&quot;Liberation Sans&quot;;font-size:15px;font-weight:normal;stroke:#202020;stroke-width:0.15px;" >05/01</text>
<text x="892.1642857142857" y="730" fill="#202020" text-anchor="middle" style="font-family:&quot;Liberation Sans&quot;;font-size:15px;font-weight:normal;stroke:#202020;stroke-width:0.15px;" >06/01</text>
<text x="942.9214285714286" y="730" fill="#202020" text-anchor="middle" style="font-family:&quot;Liberation Sans&quot;;font-size:15px;font-weight:normal;stroke:#202020;stroke-width:0.15px;" >07/01</text>
<text x="0" y="0" fill="#1a1a1a" text-anchor="middle" style="font-family:&quot;Liberation Serif&quot;;font-size:14.4px;font-weight:normal;stroke:#1a1a1a;stroke-width:0.2px;" transform="translate(567.9,582.7) rotate(-90)">Load power [W]</text>
<text x="790.5" y="589" fill="#ff8a14" text-anchor="middle" style="font-family:&quot;Liberation Sans&quot;;font-size:15.8px;font-weight:bold;stroke:#ff8a14;stroke-width:0.3px;" >No data</text>
</svg>
</body></html>
